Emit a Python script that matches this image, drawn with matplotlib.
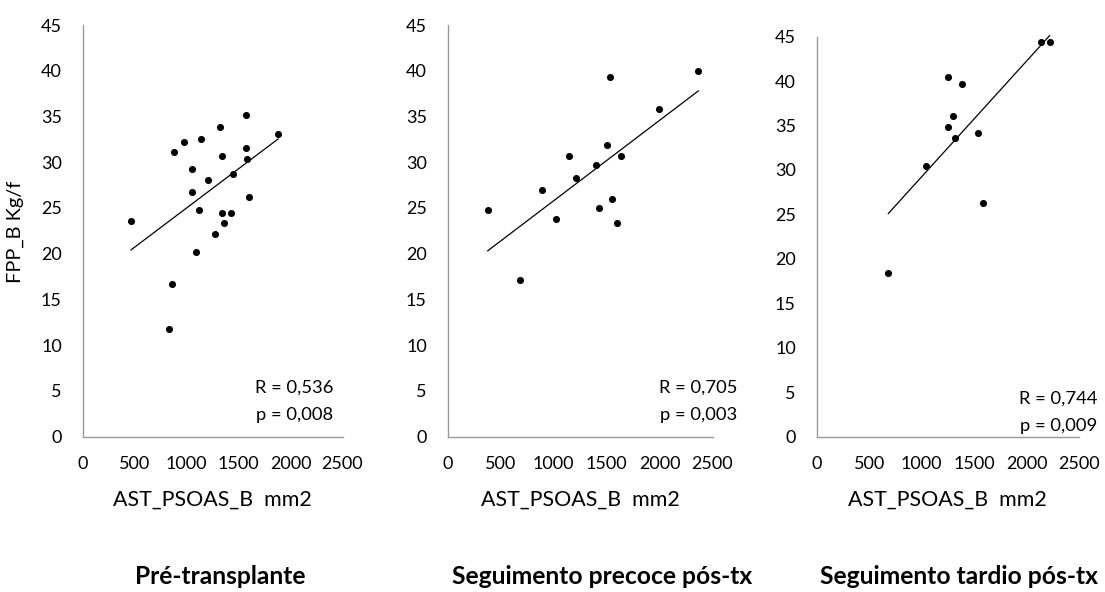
import numpy as np
import matplotlib
matplotlib.use("Agg")
import matplotlib.pyplot as plt

plt.rcParams['font.family'] = ['Lato', 'DejaVu Sans']

# ---- data ----
pre_x = [465, 875, 859, 827, 974, 1048, 1048, 1087, 1119, 1135, 1205, 1272,
         1324, 1340, 1340, 1359, 1426, 1449, 1567, 1571, 1583, 1596, 1881]
pre_y = [23.6, 31.1, 16.7, 11.8, 32.2, 29.3, 26.7, 20.2, 24.8, 32.5, 28.0, 22.1,
         33.8, 30.7, 24.4, 23.4, 24.4, 28.7, 35.2, 31.5, 30.3, 26.2, 33.1]

early_x = [378, 686, 890, 1023, 1142, 1208, 1397, 1429, 1501, 1532, 1551,
           1599, 1633, 1992, 2366]
early_y = [24.8, 17.1, 27.0, 23.8, 30.7, 28.3, 29.7, 25.0, 31.9, 39.3, 26.0,
           23.4, 30.7, 35.8, 40.0]

late_x = [683, 1042, 1248, 1248, 1299, 1315, 1385, 1537, 1588, 2138, 2220]
late_y = [18.4, 30.4, 40.5, 34.8, 36.1, 33.6, 39.7, 34.2, 26.3, 44.4, 44.4]

titles = ["Pré-transplante", "Seguimento precoce pós-tx", "Seguimento tardio pós-tx"]
r_texts = ["R = 0,536", "R = 0,705", "R = 0,744"]
p_texts = ["p = 0,008", "p = 0,003", "p = 0,009"]
x_label = "AST_PSOAS_B  mm2"
y_label = "FPP_B Kg/f"
x_ticks = [0, 500, 1000, 1500, 2000, 2500]
y_ticks = [0, 5, 10, 15, 20, 25, 30, 35, 40, 45]

series = [(pre_x, pre_y), (early_x, early_y), (late_x, late_y)]

W, H = 1105, 592
fig = plt.figure(figsize=(W / 100, H / 100), dpi=100)
renderer = fig.canvas.get_renderer()


def fit_size(text, target_px, weight='normal', base=12.0):
    """font size that gives text the target width in pixels"""
    t = fig.text(0, 0, text, fontsize=base, fontweight=weight)
    w = t.get_window_extent(renderer=renderer).width
    t.remove()
    return base * target_px / w


tick_fs = fit_size("2500", 41.7)
rp_fs = fit_size("R = 0,536", 78)
xl_fs = fit_size(x_label, 197)
title_widths = [170, 299, 276]
title_fs = [fit_size(tt, tw, weight='bold') for tt, tw in zip(titles, title_widths)]
yl_fs = fit_size(y_label, 102)

# axes boxes in pixels: left, right, top, bottom
boxes = [(82.7, 342.5, 25, 436.5),
         (447.7, 712.5, 25, 436.5),
         (816.7, 1079, 36.7, 436.5)]
title_x = [220, 602, 959]
rp_right = [333, 737, 1097]
rp_y = [(388, 415), (388, 415), (399, 426)]

axis_color = '#9a9a9a'

for i, ((xs, ys), (l, r, t, b)) in enumerate(zip(series, boxes)):
    ax = fig.add_axes([l / W, 1 - b / H, (r - l) / W, (b - t) / H])
    ax.scatter(xs, ys, s=26, color='black', zorder=3, linewidths=0)
    xs_a = np.array(xs, dtype=float)
    ys_a = np.array(ys, dtype=float)
    m, c = np.polyfit(xs_a, ys_a, 1)
    xl = np.array([xs_a.min(), xs_a.max()])
    ax.plot(xl, m * xl + c, color='black', lw=0.9, zorder=2, clip_on=False)
    ax.set_xlim(0, 2500)
    ax.set_ylim(0, 45)
    ax.set_xticks(x_ticks)
    ax.set_yticks(y_ticks)
    for side in ['top', 'right']:
        ax.spines[side].set_visible(False)
    for side in ['left', 'bottom']:
        ax.spines[side].set_color(axis_color)
        ax.spines[side].set_linewidth(1.0)
    ax.tick_params(axis='both', length=0, labelsize=tick_fs, colors='black')
    ax.tick_params(axis='y', pad=15)
    ax.tick_params(axis='x', pad=14)
    ax.patch.set_visible(False)

    cx = (l + r) / 2
    fig.text(cx / W, 1 - 500 / H, x_label, ha='center', va='center', fontsize=xl_fs)
    fig.text(title_x[i] / W, 1 - 576 / H, titles[i], ha='center', va='center',
             fontsize=title_fs[i], fontweight='bold')
    fig.text(rp_right[i] / W, 1 - rp_y[i][0] / H, r_texts[i], ha='right',
             va='center', fontsize=rp_fs)
    fig.text(rp_right[i] / W, 1 - rp_y[i][1] / H, p_texts[i], ha='right',
             va='center', fontsize=rp_fs)

fig.text(15 / W, 1 - 232 / H, y_label, rotation=90, ha='center', va='center',
         fontsize=yl_fs)

fig.savefig('out.png', dpi=100)
